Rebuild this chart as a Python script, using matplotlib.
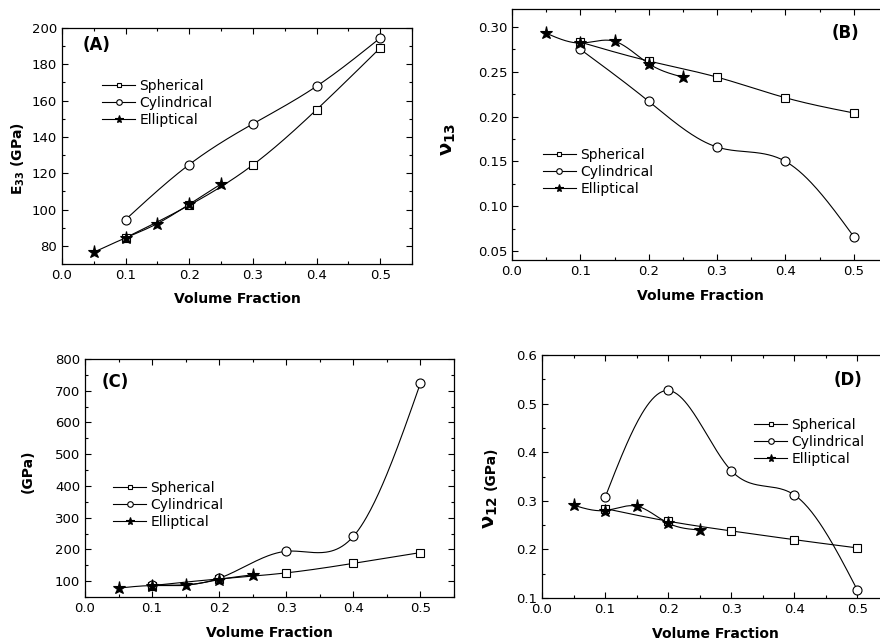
import numpy as np
import matplotlib
matplotlib.use("Agg")
import matplotlib.pyplot as plt
from matplotlib.ticker import MultipleLocator, FormatStrFormatter

plt.rcParams['font.family'] = ['DejaVu Sans']
plt.rcParams['mathtext.fontset'] = 'dejavusans'
plt.rcParams['mathtext.default'] = 'bf'

# ---------------- data ----------------
labels = ["Spherical", "Cylindrical", "Elliptical"]
x_sph = [0.1, 0.2, 0.3, 0.4, 0.5]
x_cyl = [0.1, 0.2, 0.3, 0.4, 0.5]
x_ell = [0.05, 0.1, 0.15, 0.2, 0.25]

# (A) E33 (GPa)
a_sph = [84.5, 102.4, 124.6, 155.0, 189.0]
a_cyl = [94.5, 124.8, 147.2, 167.9, 194.5]
a_ell = [76.5, 84.4, 92.3, 102.9, 114.1]

# (B) nu13
b_sph = [0.283, 0.262, 0.244, 0.221, 0.204]
b_cyl = [0.275, 0.217, 0.166, 0.150, 0.066]
b_ell = [0.293, 0.282, 0.284, 0.259, 0.244]

# (C) (GPa)
c_sph = [86, 107, 126, 156, 190]
c_cyl = [89, 109, 194, 241, 724]
c_ell = [78, 86, 87, 105, 120]

# (D) nu12
d_sph = [0.284, 0.258, 0.238, 0.220, 0.203]
d_cyl = [0.307, 0.527, 0.362, 0.312, 0.116]
d_ell = [0.291, 0.280, 0.289, 0.254, 0.240]


def spline(x, y, n=200):
    """Natural cubic spline through the data points (line drawing only)."""
    x = np.asarray(x, float)
    y = np.asarray(y, float)
    m = len(x)
    h = np.diff(x)
    A = np.zeros((m, m))
    r = np.zeros(m)
    A[0, 0] = 1
    A[-1, -1] = 1
    for i in range(1, m - 1):
        A[i, i - 1] = h[i - 1]
        A[i, i] = 2 * (h[i - 1] + h[i])
        A[i, i + 1] = h[i]
        r[i] = 3 * ((y[i + 1] - y[i]) / h[i] - (y[i] - y[i - 1]) / h[i - 1])
    c = np.linalg.solve(A, r)
    xs = np.linspace(x[0], x[-1], n)
    idx = np.clip(np.searchsorted(x, xs) - 1, 0, m - 2)
    dx = xs - x[idx]
    b = (y[1:] - y[:-1]) / h - h * (2 * c[:-1] + c[1:]) / 3
    d = (c[1:] - c[:-1]) / (3 * h)
    ys = y[idx] + b[idx] * dx + c[idx] * dx ** 2 + d[idx] * dx ** 3
    return xs, ys


W, H = 880, 643
fig = plt.figure(figsize=(W / 100, H / 100), dpi=100)


def px_axes(left, top, right, bottom):
    return fig.add_axes([left / W, 1 - bottom / H, (right - left) / W, (bottom - top) / H])


styles = [dict(marker='s', ms=5.5), dict(marker='o', ms=6.5), dict(marker='*', ms=9.5)]


def draw(ax, ys_list, xs_list, ylim, ymaj, ymin, yfmt, ylabels,
         leg_pos, tag, tag_pos, xlab_y):
    for xd, yd, st, lab in zip(xs_list, ys_list, styles, labels):
        xs, ys = spline(xd, yd)
        ax.plot(xs, ys, color='black', lw=0.8, zorder=2)
        ax.plot(xd, yd, linestyle='none', marker=st['marker'], ms=st['ms'],
                mfc='white' if st['marker'] != '*' else 'black',
                mec='black', mew=0.8, zorder=3)
    handles = []
    for st, lab in zip(styles, labels):
        h, = ax.plot([], [], color='black', lw=0.8, marker=st['marker'],
                     ms=st['ms'] * 0.62,
                     mfc='white' if st['marker'] != '*' else 'black',
                     mec='black', mew=0.8, label=lab)
        handles.append(h)
    ax.legend(handles=handles, loc='center left', bbox_to_anchor=leg_pos,
              frameon=False, fontsize=10, handlelength=2.4, handletextpad=0.3,
              labelspacing=0.22, borderpad=0, borderaxespad=0)
    ax.set_xlim(0, 0.55)
    ax.set_ylim(*ylim)
    ax.xaxis.set_major_locator(MultipleLocator(0.1))
    ax.xaxis.set_minor_locator(MultipleLocator(0.05))
    ax.xaxis.set_major_formatter(FormatStrFormatter('%.1f'))
    ax.yaxis.set_major_locator(MultipleLocator(ymaj))
    ax.yaxis.set_minor_locator(MultipleLocator(ymin))
    ax.yaxis.set_major_formatter(FormatStrFormatter(yfmt))
    ax.tick_params(which='both', direction='in', top=True, right=True,
                   labelsize=9.5, width=0.8)
    ax.tick_params(which='major', length=4)
    ax.tick_params(which='minor', length=2.5)
    for s in ax.spines.values():
        s.set_linewidth(0.9)
    ax.text(0.5, xlab_y, 'Volume Fraction', transform=ax.transAxes,
            fontsize=10, fontweight='bold', ha='center', va='center')
    for txt, x, y, fs in ylabels:
        ax.text(x, y, txt, transform=ax.transAxes, fontsize=fs,
                fontweight='bold', rotation=90, ha='center', va='center')
    ax.text(tag_pos[0], tag_pos[1], tag, transform=ax.transAxes, fontsize=12,
            fontweight='bold', ha='left', va='center')


axA = px_axes(62, 28, 412, 264)
axB = px_axes(512, 9, 888, 260)
axC = px_axes(85, 359, 454, 597)
axD = px_axes(542, 355, 889, 598)

draw(axA, [a_sph, a_cyl, a_ell], [x_sph, x_cyl, x_ell], (70, 200), 20, 10, '%d',
     [(r'E$_{33}$ (GPa)', -0.126, 0.445, 10)],
     (0.114, 0.682), '(A)', (0.06, 0.928), -0.148)
draw(axB, [b_sph, b_cyl, b_ell], [x_sph, x_cyl, x_ell], (0.04, 0.32), 0.05, 0.025, '%.2f',
     [(r'ν$_{13}$', -0.168, 0.48, 14)],
     (0.082, 0.351), '(B)', (0.85, 0.905), -0.143)
draw(axC, [c_sph, c_cyl, c_ell], [x_sph, x_cyl, x_ell], (50, 800), 100, 50, '%d',
     [('(GPa)', -0.155, 0.527, 10)],
     (0.076, 0.387), '(C)', (0.046, 0.905), -0.151)
draw(axD, [d_sph, d_cyl, d_ell], [x_sph, x_cyl, x_ell], (0.1, 0.6), 0.1, 0.05, '%.1f',
     [(r'ν$_{12}$', -0.149, 0.354, 14), ('(GPa)', -0.149, 0.535, 10)],
     (0.611, 0.641), '(D)', (0.841, 0.897), -0.148)

fig.savefig('out.png', dpi=100)
